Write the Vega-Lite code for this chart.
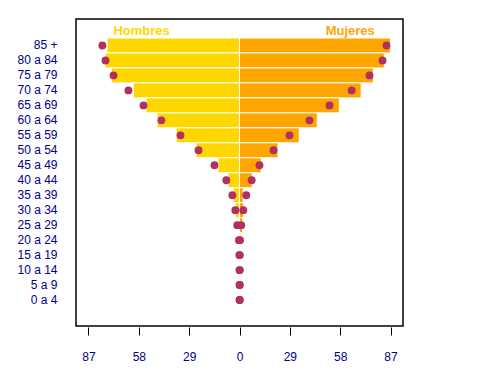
{
  "$schema": "https://vega.github.io/schema/vega-lite/v6.json",
  "autosize": "none",
  "width": 327,
  "height": 307,
  "padding": {"left": 76, "top": 19, "right": 77, "bottom": 58},
  "background": "white",
  "config": {
    "view": {"stroke": "black", "strokeWidth": 1.5},
    "font": "Liberation Sans"
  },
  "data": {
    "values": [
      {"edad": "85 +", "sexo": "Hombres", "barra": -76.3, "punto": -79.0},
      {"edad": "85 +", "sexo": "Mujeres", "barra": 87.0, "punto": 84.7},
      {"edad": "80 a 84", "sexo": "Hombres", "barra": -77.4, "punto": -77.2},
      {"edad": "80 a 84", "sexo": "Mujeres", "barra": 83.4, "punto": 82.4},
      {"edad": "75 a 79", "sexo": "Hombres", "barra": -73.9, "punto": -72.6},
      {"edad": "75 a 79", "sexo": "Mujeres", "barra": 77.1, "punto": 74.9},
      {"edad": "70 a 74", "sexo": "Hombres", "barra": -61.2, "punto": -64.0},
      {"edad": "70 a 74", "sexo": "Mujeres", "barra": 70.1, "punto": 64.6},
      {"edad": "65 a 69", "sexo": "Hombres", "barra": -53.8, "punto": -55.3},
      {"edad": "65 a 69", "sexo": "Mujeres", "barra": 57.5, "punto": 51.9},
      {"edad": "60 a 64", "sexo": "Hombres", "barra": -47.5, "punto": -45.0},
      {"edad": "60 a 64", "sexo": "Mujeres", "barra": 44.8, "punto": 40.3},
      {"edad": "55 a 59", "sexo": "Hombres", "barra": -36.5, "punto": -34.0},
      {"edad": "55 a 59", "sexo": "Mujeres", "barra": 34.4, "punto": 28.8},
      {"edad": "50 a 54", "sexo": "Hombres", "barra": -25.0, "punto": -23.6},
      {"edad": "50 a 54", "sexo": "Mujeres", "barra": 22.2, "punto": 19.6},
      {"edad": "45 a 49", "sexo": "Hombres", "barra": -12.3, "punto": -14.4},
      {"edad": "45 a 49", "sexo": "Mujeres", "barra": 12.5, "punto": 11.5},
      {"edad": "40 a 44", "sexo": "Hombres", "barra": -6.6, "punto": -7.6},
      {"edad": "40 a 44", "sexo": "Mujeres", "barra": 7.3, "punto": 7.0},
      {"edad": "35 a 39", "sexo": "Hombres", "barra": -3.6, "punto": -4.1},
      {"edad": "35 a 39", "sexo": "Mujeres", "barra": 2.1, "punto": 3.9},
      {"edad": "30 a 34", "sexo": "Hombres", "barra": -2.4, "punto": -2.4},
      {"edad": "30 a 34", "sexo": "Mujeres", "barra": 2.4, "punto": 2.2},
      {"edad": "25 a 29", "sexo": "Hombres", "barra": -0.7, "punto": -1.3},
      {"edad": "25 a 29", "sexo": "Mujeres", "barra": 1.8, "punto": 1.0},
      {"edad": "20 a 24", "sexo": "Hombres", "barra": -0.3, "punto": -0.3},
      {"edad": "20 a 24", "sexo": "Mujeres", "barra": 0.7, "punto": 0.3},
      {"edad": "15 a 19", "sexo": "Hombres", "barra": -0.1, "punto": -0.1},
      {"edad": "15 a 19", "sexo": "Mujeres", "barra": 0.1, "punto": 0.2},
      {"edad": "10 a 14", "sexo": "Hombres", "barra": -0.05, "punto": -0.05},
      {"edad": "10 a 14", "sexo": "Mujeres", "barra": 0.05, "punto": 0.2},
      {"edad": "5 a 9", "sexo": "Hombres", "barra": -0.02, "punto": -0.02},
      {"edad": "5 a 9", "sexo": "Mujeres", "barra": 0.02, "punto": 0.2},
      {"edad": "0 a 4", "sexo": "Hombres", "barra": -0.01, "punto": -0.01},
      {"edad": "0 a 4", "sexo": "Mujeres", "barra": 0.01, "punto": 0.2}
    ]
  },
  "encoding": {
    "y": {
      "field": "edad",
      "type": "nominal",
      "sort": ["85 +", "80 a 84", "75 a 79", "70 a 74", "65 a 69", "60 a 64", "55 a 59", "50 a 54", "45 a 49", "40 a 44", "35 a 39", "30 a 34", "25 a 29", "20 a 24", "15 a 19", "10 a 14", "5 a 9", "0 a 4"],
      "scale": {"paddingInner": 0, "paddingOuter": 0, "range": [19, 288.5]},
      "axis": {
        "title": null,
        "ticks": false,
        "domain": false,
        "labelPadding": 19,
        "labelColor": "#00008B",
        "labelFontSize": 12,
        "labelFont": "Liberation Sans"
      }
    }
  },
  "layer": [
    {
      "mark": {"type": "bar", "stroke": "white", "strokeWidth": 1},
      "encoding": {
        "x": {
          "field": "barra",
          "type": "quantitative",
          "scale": {"domain": [-94.2, 94.2], "nice": false, "zero": false},
          "axis": {
            "title": null,
            "values": [-87, -58, -29, 0, 29, 58, 87],
            "labelExpr": "abs(datum.value)",
            "grid": false,
            "domain": false,
            "tickColor": "black",
            "tickSize": 8,
            "offset": 1,
            "labelPadding": 16,
            "labelColor": "#00008B",
            "labelFontSize": 12,
            "labelFont": "Liberation Sans"
          }
        },
        "color": {
          "field": "sexo",
          "type": "nominal",
          "scale": {"domain": ["Hombres", "Mujeres"], "range": ["#FFD700", "#FFA500"]},
          "legend": null
        }
      }
    },
    {
      "mark": {"type": "point", "filled": true, "size": 62, "opacity": 1, "color": "#B03060"},
      "encoding": {
        "x": {"field": "punto", "type": "quantitative"}
      }
    },
    {
      "data": {"values": [{"texto": "Hombres", "pos": -56.4, "edad": "85 +", "sexo": "Hombres"}, {"texto": "Mujeres", "pos": 63.8, "edad": "85 +", "sexo": "Mujeres"}]},
      "mark": {"type": "text", "fontWeight": "bold", "fontSize": 13, "dy": -14, "font": "Liberation Sans"},
      "encoding": {
        "x": {"field": "pos", "type": "quantitative"},
        "text": {"field": "texto"},
        "color": {"field": "sexo", "type": "nominal", "legend": null}
      }
    }
  ]
}
